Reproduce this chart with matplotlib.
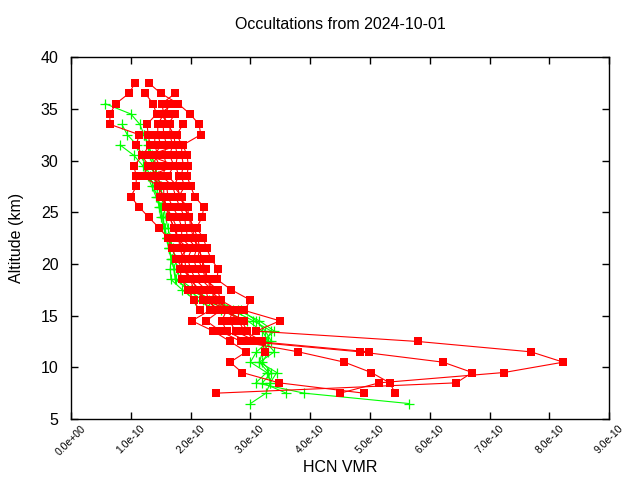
import numpy as np
import matplotlib
matplotlib.use("Agg")
import matplotlib.pyplot as plt
from matplotlib.ticker import MultipleLocator, FuncFormatter

plt.rcParams['font.family'] = ['Liberation Sans', 'DejaVu Sans']

# HCN VMR profiles in units of 1e-10, listed from the top altitude downward in 1 km steps
red_tops = [37.5, 37.5, 36.5, 36.5, 35.5, 35.5, 34.5, 33.5, 32.5, 31.5]
red_1 = [1.07, 0.97, 0.75, 0.65, 0.65, 1.14, 1.09, 1.20, 1.05, 1.09, 1.09, 1.00, 1.14, 1.30, 1.47, 1.62,
         1.69, 1.76, 1.87, 2.00, 2.14, 2.20, 2.32, 2.02, 2.38, 2.66, 2.93, 2.66, 2.86, 3.48, 4.90]
red_2 = [1.30, 1.50, 1.79, 1.99, 2.14, 2.17, 1.87, 1.94, 1.96, 1.94, 2.00, 2.07, 2.22, 2.19, 2.10, 2.21,
         2.27, 2.34, 2.46, 2.44, 2.68, 3.00, 2.90, 3.49, 3.10, 5.80, 7.69, 8.23, 7.24, 5.15, 4.50]
red_3 = [1.24, 1.37, 1.43, 1.27, 1.29, 1.32, 1.19, 1.29, 1.20, 1.47, 1.49, 1.60, 1.69, 1.77, 1.76,
         1.96, 1.80, 1.90, 1.99, 2.14, 2.25, 2.50, 2.26, 2.50, 2.84, 3.80, 4.57, 5.02, 5.33, 5.42]
red_4 = [1.74, 1.52, 1.55, 1.45, 1.45, 1.50, 1.40, 1.48, 1.35, 1.60, 1.62, 1.70, 1.80, 1.85, 1.85,
         2.02, 1.95, 2.00, 2.08, 2.25, 2.30, 2.60, 2.52, 2.60, 2.95, 4.83, 6.22, 6.71, 6.44, 2.42]
red_5 = [1.62, 1.60, 1.54, 1.55, 1.60, 1.55, 1.60, 1.52, 1.70, 1.75, 1.82, 1.90, 1.92, 1.95, 2.10,
         2.05, 2.10, 2.18, 2.35, 2.40, 2.70, 2.65, 2.75, 3.10, 4.98]
red_6 = [1.72, 1.48, 1.66, 1.65, 1.70, 1.65, 1.72, 1.62, 1.78, 1.82, 1.90, 1.98, 2.00, 2.05, 2.15,
         2.12, 2.20, 2.25, 2.45, 2.50, 2.80, 2.80, 2.90, 3.20, 3.24]
red_7 = [1.74, 1.62, 1.72, 1.74, 1.78, 1.75, 1.80, 1.72, 1.85, 1.88, 1.98, 2.05, 2.05, 2.12, 2.20,
         2.20, 2.30, 2.32, 2.50, 2.55, 2.85, 2.95, 3.05]
red_8 = [1.87, 1.77, 1.85, 1.85, 1.88, 1.84, 1.90, 1.80, 1.95, 1.97, 2.05, 2.12, 2.15, 2.18, 2.25,
         2.28, 2.38, 2.40, 2.58, 2.90]
red_9 = [1.40, 1.40, 1.45, 1.35, 1.40, 1.45, 1.55, 1.58, 1.65, 1.72, 1.80, 1.82, 1.88, 1.82, 1.85,
         1.95, 2.05, 2.15]
red_10 = [1.80, 1.30, 1.75, 1.30, 1.55, 1.55, 1.60, 1.65, 1.72, 1.78, 1.88, 1.90, 1.92, 2.00, 2.05,
          2.28, 2.45]
red_profiles = [red_1, red_2, red_3, red_4, red_5, red_6, red_7, red_8, red_9, red_10]

green_tops = [35.5, 33.5, 31.5, 32.5]
green_1 = [0.57, 1.00, 1.15, 1.22, 1.28, 1.32, 1.36, 1.40, 1.43, 1.45, 1.47, 1.50, 1.55, 1.60, 1.64,
           1.67, 1.66, 1.67, 1.86, 2.07, 2.50, 2.95, 3.20, 3.30, 3.10, 3.00, 3.27, 3.09, 3.90, 5.65]
green_2 = [0.85, 0.94, 1.10, 1.18, 1.25, 1.32, 1.38, 1.44, 1.50, 1.53, 1.56, 1.60, 1.64, 1.68, 1.72,
           1.76, 1.95, 2.20, 2.70, 3.05, 3.35, 3.25, 3.40, 3.15, 3.44, 3.33, 3.26, 3.00]
green_3 = [0.82, 1.05, 1.20, 1.28, 1.35, 1.42, 1.48, 1.53, 1.57, 1.60, 1.63, 1.68, 1.72, 1.74,
           2.00, 2.30, 2.80, 3.15, 3.40, 3.20, 3.30, 3.20, 3.35, 3.20, 3.60]
green_4 = [1.22, 1.30, 1.35, 1.40, 1.45, 1.50, 1.52, 1.55, 1.58, 1.62, 1.66, 1.70, 1.74, 1.78, 1.82,
           2.05, 2.35, 2.85, 3.10, 3.25, 3.35, 3.20, 3.15, 3.30, 3.33]
green_profiles = [green_1, green_2, green_3, green_4]

fig = plt.figure(figsize=(6.4, 4.8), dpi=100)
ax = fig.add_axes([0.111, 0.127, 0.841, 0.754])


def alts(top, n):
    return top - np.arange(n)


for top, prof in zip(green_tops, green_profiles):
    ax.plot(np.array(prof) * 1e-10, alts(top, len(prof)), color='#00ff00', lw=0.8,
            marker='+', ms=7, mew=0.9)

for top, prof in zip(red_tops, red_profiles):
    ax.plot(np.array(prof) * 1e-10, alts(top, len(prof)), color='#ff0000', lw=0.8,
            marker='s', ms=5.5, mew=0)

ax.set_xlim(0, 9e-10)
ax.set_ylim(5, 40)
ax.xaxis.set_major_locator(MultipleLocator(1e-10))
ax.yaxis.set_major_locator(MultipleLocator(5))
ax.xaxis.set_major_formatter(FuncFormatter(lambda v, p: '%.1e' % v))
ax.tick_params(direction='in', top=True, right=True, length=5, width=1, labelsize=11.5)
ax.tick_params(axis='y', pad=9)
ax.tick_params(axis='x', labelsize=7.5, pad=3)
for lbl in ax.get_xticklabels():
    lbl.set_rotation(45)
    lbl.set_ha('center')
    lbl.set_va('top')
for s in ax.spines.values():
    s.set_linewidth(1)

ax.set_xlabel('HCN VMR', fontsize=11.5, labelpad=2)
ax.set_ylabel('Altitude (km)', fontsize=11.5, labelpad=12)
ax.set_title('Occultations from 2024-10-01', fontsize=11.5, pad=20)

fig.savefig('out.png', dpi=100)
